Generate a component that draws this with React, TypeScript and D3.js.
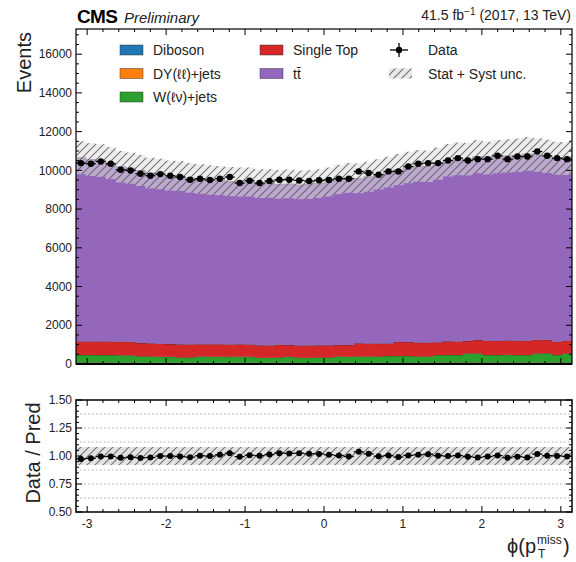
import React from "react";
import * as d3 from "d3";

// ---- data (50 bins in phi from -pi to pi) ----
const dataCounts = [10375, 10340, 10460, 10340, 10030, 9996, 9825, 9722, 9808, 9722, 9654, 9516, 9568, 9499, 9568, 9654, 9345, 9465, 9345, 9448, 9516, 9516, 9480, 9450, 9490, 9500, 9568, 9568, 9945, 9860, 9774, 9945, 9945, 10200, 10340, 10375, 10375, 10512, 10632, 10512, 10580, 10580, 10751, 10580, 10717, 10717, 10974, 10751, 10632, 10580];
const ttbar = [9483, 9393, 9353, 9220, 9040, 8970, 8910, 8790, 8760, 8700, 8690, 8610, 8530, 8490, 8450, 8410, 8380, 8390, 8353, 8373, 8290, 8323, 8293, 8313, 8353, 8433, 8543, 8633, 8520, 8610, 8740, 8850, 8900, 9010, 9125, 9105, 9225, 9353, 9423, 9393, 9475, 9430, 9520, 9540, 9580, 9650, 9540, 9470, 9470, 9410];
const singleTop = [705, 702, 700, 698, 695, 690, 686, 680, 672, 650, 680, 675, 640, 638, 640, 636, 642, 636, 634, 630, 660, 600, 630, 628, 632, 630, 600, 598, 680, 684, 666, 645, 720, 725, 715, 712, 660, 700, 705, 640, 690, 735, 730, 738, 734, 736, 705, 700, 685, 660];
const wjets = [385, 390, 382, 388, 384, 380, 330, 322, 318, 312, 275, 270, 318, 316, 320, 315, 318, 314, 272, 268, 270, 318, 270, 268, 272, 275, 320, 318, 322, 316, 320, 345, 348, 342, 318, 320, 386, 390, 385, 470, 468, 390, 386, 392, 388, 385, 465, 470, 392, 468];
const dyjets = [62, 58, 60, 57, 55, 60, 52, 50, 48, 50, 45, 46, 48, 47, 45, 46, 44, 45, 43, 44, 45, 44, 43, 42, 44, 45, 46, 47, 48, 50, 52, 54, 55, 53, 56, 58, 60, 62, 63, 60, 64, 62, 61, 63, 62, 64, 66, 63, 60, 62];
const diboson = [16, 15, 17, 15, 16, 14, 15, 16, 14, 15, 15, 14, 16, 15, 14, 15, 16, 15, 14, 15, 15, 16, 14, 15, 15, 16, 15, 14, 16, 15, 15, 16, 15, 16, 15, 15, 16, 17, 15, 16, 16, 15, 16, 17, 15, 16, 17, 16, 15, 16];
const relUnc = [0.08];

const processKeys = ["diboson", "dy", "w", "st", "tt"];
const processLabels = ["Diboson", "DY(ℓℓ)+jets", "W(ℓν)+jets", "Single Top", "tt\u0304"];
const processColors = ["#1f77b4", "#ff7f0e", "#2ca02c", "#d62728", "#9467bd"];

const mainYTicks = [0, 2000, 4000, 6000, 8000, 10000, 12000, 14000, 16000];
const ratioYTicks = [0.5, 0.75, 1.0, 1.25, 1.5];
const ratioGrid = [0.625, 0.75, 0.875, 1.125, 1.25, 1.375];
const xTicks = [-3, -2, -1, 0, 1, 2, 3];

const FONT = "'Liberation Sans', Arial, Helvetica, sans-serif";

export default function App() {
  const W = 576, H = 562;
  const left = 76, right = 572;
  const mainTop = 29, mainBottom = 364;
  const ratioTop = 400, ratioBottom = 512;

  const x = d3.scaleLinear().domain([-Math.PI, Math.PI]).range([left, right]);
  const y = d3.scaleLinear().domain([0, 17300]).range([mainBottom, mainTop]);
  const yr = d3.scaleLinear().domain([0.5, 1.5]).range([ratioBottom, ratioTop]);

  const n = dataCounts.length;
  const edges = d3.range(n + 1).map((i) => -Math.PI + (2 * Math.PI * i) / n);
  const rows = dataCounts.map((_, i) => ({
    diboson: diboson[i], dy: dyjets[i], w: wjets[i], st: singleTop[i], tt: ttbar[i],
  }));
  const stacked = d3.stack<any>().keys(processKeys)(rows);
  const mc = rows.map((r) => r.diboson + r.dy + r.w + r.st + r.tt);
  const u = relUnc[0];

  const stepPts = (lo: (i: number) => number, hi: (i: number) => number) => {
    const pts: [number, number, number][] = [];
    for (let i = 0; i < n; i++) {
      pts.push([edges[i], lo(i), hi(i)]);
      pts.push([edges[i + 1], lo(i), hi(i)]);
    }
    return pts;
  };
  const areaMain = d3.area<[number, number, number]>()
    .x((p) => x(p[0])).y0((p) => y(p[1])).y1((p) => y(p[2]));
  const lineMain = d3.line<[number, number, number]>()
    .x((p) => x(p[0])).y((p) => y(p[2]));
  const areaRatio = d3.area<[number, number, number]>()
    .x((p) => x(p[0])).y0((p) => yr(p[1])).y1((p) => yr(p[2]));

  const ratio = dataCounts.map((d, i) => d / mc[i]);
  const centers = d3.range(n).map((i) => (edges[i] + edges[i + 1]) / 2);

  const xMinor = d3.range(-3.2, 3.21, 0.2).filter((v) => v >= -Math.PI && v <= Math.PI);
  const yMinor = d3.range(0, 17300, 500);
  const yrMinor = d3.range(0.5, 1.5001, 0.05);

  const tickEls: JSX.Element[] = [];
  const addXTicks = (top: number, bottom: number, key: string) => {
    xMinor.forEach((v, i) => {
      const major = Math.abs(v - Math.round(v)) < 1e-6;
      const len = major ? 6 : 3;
      const xx = x(v);
      tickEls.push(<line key={key + "b" + i} x1={xx} x2={xx} y1={bottom} y2={bottom - len} stroke="#000" strokeWidth={1} />);
      tickEls.push(<line key={key + "t" + i} x1={xx} x2={xx} y1={top} y2={top + len} stroke="#000" strokeWidth={1} />);
    });
  };
  addXTicks(mainTop, mainBottom, "m");
  addXTicks(ratioTop, ratioBottom, "r");
  yMinor.forEach((v, i) => {
    const major = v % 2000 === 0;
    const len = major ? 6 : 3;
    tickEls.push(<line key={"yl" + i} x1={left} x2={left + len} y1={y(v)} y2={y(v)} stroke="#000" strokeWidth={1} />);
    tickEls.push(<line key={"yr" + i} x1={right} x2={right - len} y1={y(v)} y2={y(v)} stroke="#000" strokeWidth={1} />);
  });
  yrMinor.forEach((v, i) => {
    const major = Math.abs(v * 4 - Math.round(v * 4)) < 1e-6;
    const len = major ? 6 : 3;
    tickEls.push(<line key={"rl" + i} x1={left} x2={left + len} y1={yr(v)} y2={yr(v)} stroke="#000" strokeWidth={1} />);
    tickEls.push(<line key={"rr" + i} x1={right} x2={right - len} y1={yr(v)} y2={yr(v)} stroke="#000" strokeWidth={1} />);
  });

  const bandPts = stepPts((i) => mc[i] * (1 - u), (i) => mc[i] * (1 + u));
  const ratioBandPts = stepPts(() => 1 - u, () => 1 + u);

  return (
    <svg width={W} height={H} style={{ display: "block", position: "absolute", left: 0, top: 0 }} fontFamily={FONT}>
      <defs>
        <pattern id="hatch" width={8} height={8} patternUnits="userSpaceOnUse">
          <path d="M-1,1 l2,-2 M0,8 l8,-8 M7,9 l2,-2" stroke="#555" strokeWidth={1.1} strokeOpacity={0.8} />
        </pattern>
        <clipPath id="mainClip"><rect x={left} y={mainTop} width={right - left} height={mainBottom - mainTop} /></clipPath>
        <clipPath id="ratioClip"><rect x={left} y={ratioTop} width={right - left} height={ratioBottom - ratioTop} /></clipPath>
      </defs>
      <rect x={0} y={0} width={W} height={H} fill="#fff" />

      {/* main panel */}
      <g clipPath="url(#mainClip)">
        {stacked.map((layer, k) => {
          const pts = stepPts((i) => layer[i][0], (i) => layer[i][1]);
          return (
            <g key={"layer" + k}>
              <path d={areaMain(pts) || ""} fill={processColors[k]} />
              <path d={lineMain(pts) || ""} fill="none" stroke="#3a2a2a" strokeOpacity={0.75} strokeWidth={0.8} />
            </g>
          );
        })}
        <path d={areaMain(bandPts) || ""} fill="#dedede" fillOpacity={0.55} />
        <path d={areaMain(bandPts) || ""} fill="url(#hatch)" />
        {centers.map((c, i) => {
          const cy = y(dataCounts[i]);
          const e = Math.sqrt(dataCounts[i]);
          return (
            <g key={"d" + i}>
              <line x1={x(edges[i])} x2={x(edges[i + 1])} y1={cy} y2={cy} stroke="#000" strokeWidth={1.3} />
              <line x1={x(c)} x2={x(c)} y1={y(dataCounts[i] - e)} y2={y(dataCounts[i] + e)} stroke="#000" strokeWidth={1.3} />
              <circle cx={x(c)} cy={cy} r={3.2} fill="#000" />
            </g>
          );
        })}
      </g>
      <rect x={left} y={mainTop} width={right - left} height={mainBottom - mainTop} fill="none" stroke="#000" strokeWidth={1.2} />
      <line x1={left} x2={right} y1={mainBottom} y2={mainBottom} stroke="#000" strokeWidth={2} />

      {/* ratio panel */}
      <g clipPath="url(#ratioClip)">
        {ratioGrid.map((g, i) => (
          <line key={"g" + i} x1={left} x2={right} y1={yr(g)} y2={yr(g)} stroke="#aaa" strokeWidth={1} strokeDasharray="1.5,2.5" />
        ))}
        <path d={areaRatio(ratioBandPts) || ""} fill="#cfcfcf" fillOpacity={0.6} />
        <path d={areaRatio(ratioBandPts) || ""} fill="url(#hatch)" />
        {centers.map((c, i) => {
          const cy = yr(ratio[i]);
          const e = Math.sqrt(dataCounts[i]) / mc[i];
          return (
            <g key={"r" + i}>
              <line x1={x(edges[i])} x2={x(edges[i + 1])} y1={cy} y2={cy} stroke="#000" strokeWidth={1.3} />
              <line x1={x(c)} x2={x(c)} y1={yr(ratio[i] - e)} y2={yr(ratio[i] + e)} stroke="#000" strokeWidth={1.3} />
              <circle cx={x(c)} cy={cy} r={3} fill="#000" />
            </g>
          );
        })}
      </g>
      <rect x={left} y={ratioTop} width={right - left} height={ratioBottom - ratioTop} fill="none" stroke="#000" strokeWidth={1.5} />

      {tickEls}

      {/* tick labels */}
      {mainYTicks.map((v) => (
        <text key={"ym" + v} x={left - 4} y={y(v)} dy="0.35em" textAnchor="end" fontSize={12} fill="#222">{v}</text>
      ))}
      {ratioYTicks.map((v) => (
        <text key={"yr" + v} x={left - 4} y={yr(v)} dy="0.35em" textAnchor="end" fontSize={12} fill="#222">{v.toFixed(2)}</text>
      ))}
      {xTicks.map((v) => (
        <text key={"xt" + v} x={x(v)} y={528} textAnchor="middle" fontSize={12} fill="#222">{v}</text>
      ))}

      {/* axis titles */}
      <text transform={`translate(31,32) rotate(-90)`} textAnchor="end" fontSize={20} fill="#222">Events</text>
      <text transform={`translate(40,453) rotate(-90)`} textAnchor="middle" fontSize={20} fill="#222">Data / Pred</text>
      <text x={536} y={553} textAnchor="end" fontSize={20} fill="#222">ϕ(p</text>
      <text x={537} y={544} fontSize={12} fill="#222">miss</text>
      <text x={538} y={558} fontSize={12} fill="#222">T</text>
      <text x={563} y={553} fontSize={20} fill="#222">)</text>

      {/* header */}
      <text x={77} y={23} fontSize={19} fontWeight="bold" letterSpacing={-0.6} fill="#000">CMS</text>
      <text x={124} y={23} fontSize={15} fontStyle="italic" fill="#222">Preliminary</text>
      <text x={571} y={20} textAnchor="end" fontSize={14} fill="#222">
        41.5 fb<tspan dy={-5} fontSize={10}>−1</tspan><tspan dy={5}> (2017, 13 TeV)</tspan>
      </text>

      {/* legend */}
      {processLabels.map((lab, k) => {
        const col = k < 3 ? 0 : 1;
        const row = k < 3 ? k : k - 3;
        const sx = col === 0 ? 120 : 260;
        const ty = 55 + row * 23.5;
        return (
          <g key={"leg" + k}>
            <rect x={sx} y={ty - 10} width={23} height={10} fill={processColors[k]} stroke="#333" strokeOpacity={0.6} strokeWidth={0.8} />
            <text x={sx + 33} y={ty} fontSize={14} fill="#222">{lab}</text>
          </g>
        );
      })}
      <g>
        <line x1={390} x2={408} y1={50} y2={50} stroke="#000" strokeWidth={1.3} />
        <line x1={399} x2={399} y1={43} y2={57} stroke="#000" strokeWidth={1.3} />
        <circle cx={399} cy={50} r={3.2} fill="#000" />
        <text x={428} y={55} fontSize={14} fill="#222">Data</text>
        <rect x={389} y={68.5} width={23} height={10} fill="#dedede" fillOpacity={0.7} />
        <rect x={389} y={68.5} width={23} height={10} fill="url(#hatch)" />
        <text x={428} y={78.5} fontSize={14} fill="#222">Stat + Syst unc.</text>
      </g>
    </svg>
  );
}
